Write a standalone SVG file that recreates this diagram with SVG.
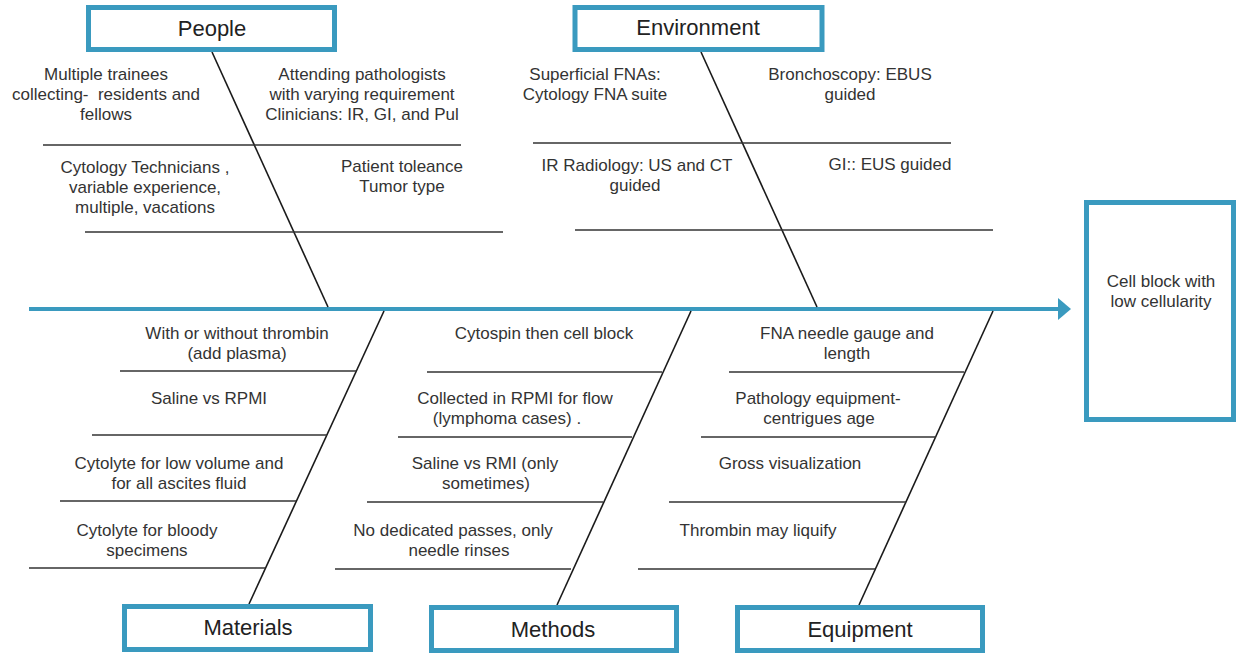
<svg xmlns="http://www.w3.org/2000/svg" width="1236" height="653" viewBox="0 0 1236 653">
<style>
.box{fill:#fff;stroke:#3a9abf;stroke-width:5}
.title{font-family:"Liberation Sans",Arial,sans-serif;font-size:22px;fill:#222;text-anchor:middle}
.t{font-family:"Liberation Sans",Arial,sans-serif;font-size:17px;fill:#333;text-anchor:middle;white-space:pre}
.bone{stroke:#1a1a1a;stroke-width:1.6;fill:none}
.rib{stroke:#333;stroke-width:1.6;fill:none}
</style>
<rect width="1236" height="653" fill="#fff"/>
<g id="connectors">
<line x1="29" y1="309" x2="1060" y2="309" stroke="#3a9abf" stroke-width="4"/>
<polygon points="1058,298 1071,309 1058,320" fill="#3a9abf"/>
<line class="bone" x1="212" y1="52" x2="328" y2="307"/>
<line class="bone" x1="701" y1="52" x2="817" y2="307"/>
<line class="bone" x1="384" y1="311" x2="249" y2="604"/>
<line class="bone" x1="691" y1="311" x2="557" y2="605"/>
<line class="bone" x1="993" y1="311" x2="859" y2="605"/>
<line class="rib" x1="43" y1="145" x2="461" y2="145"/>
<line class="rib" x1="85" y1="232" x2="503" y2="232"/>
<line class="rib" x1="533" y1="143" x2="951" y2="143"/>
<line class="rib" x1="575" y1="230" x2="993" y2="230"/>
<line class="rib" x1="120" y1="371" x2="356" y2="371"/>
<line class="rib" x1="92" y1="435" x2="327" y2="435"/>
<line class="rib" x1="60" y1="501" x2="296" y2="501"/>
<line class="rib" x1="29" y1="568" x2="265" y2="568"/>
<line class="rib" x1="427" y1="372" x2="662" y2="372"/>
<line class="rib" x1="398" y1="437" x2="632" y2="437"/>
<line class="rib" x1="367" y1="502" x2="603" y2="502"/>
<line class="rib" x1="335" y1="569" x2="571" y2="569"/>
<line class="rib" x1="729" y1="372" x2="964" y2="372"/>
<line class="rib" x1="701" y1="437" x2="936" y2="437"/>
<line class="rib" x1="669" y1="502" x2="906" y2="502"/>
<line class="rib" x1="638" y1="569" x2="875" y2="569"/>
</g>
<g id="people">
<rect class="box" x="88.5" y="7.5" width="246" height="42"/>
<text class="title" x="212" y="36">People</text>
<text class="t" x="106" y="80">Multiple trainees</text>
<text class="t" x="106" y="100" xml:space="preserve">collecting-  residents and</text>
<text class="t" x="106" y="120">fellows</text>
<text class="t" x="362" y="80">Attending pathologists</text>
<text class="t" x="362" y="100">with varying requirement</text>
<text class="t" x="362" y="120">Clinicians: IR, GI, and Pul</text>
<text class="t" x="145" y="173">Cytology Technicians ,</text>
<text class="t" x="145" y="193">variable experience,</text>
<text class="t" x="145" y="213">multiple, vacations</text>
<text class="t" x="402" y="172">Patient toleance</text>
<text class="t" x="402" y="192">Tumor type</text>
</g>
<g id="environment">
<rect class="box" x="575" y="7.5" width="247" height="42"/>
<text class="title" x="698" y="35">Environment</text>
<text class="t" x="595" y="80">Superficial FNAs:</text>
<text class="t" x="595" y="100">Cytology FNA suite</text>
<text class="t" x="850" y="80">Bronchoscopy: EBUS</text>
<text class="t" x="850" y="100">guided</text>
<text class="t" x="637" y="171">IR Radiology: US and CT</text>
<text class="t" x="635" y="191">guided</text>
<text class="t" x="890" y="170">GI:: EUS guided</text>
</g>
<g id="materials">
<rect class="box" x="124.5" y="606.5" width="246" height="43"/>
<text class="title" x="248" y="635">Materials</text>
<text class="t" x="237" y="339">With or without thrombin</text>
<text class="t" x="237" y="359">(add plasma)</text>
<text class="t" x="209" y="404">Saline vs RPMI</text>
<text class="t" x="179" y="469">Cytolyte for low volume and</text>
<text class="t" x="179" y="489">for all ascites fluid</text>
<text class="t" x="147" y="536">Cytolyte for bloody</text>
<text class="t" x="147" y="556">specimens</text>
</g>
<g id="methods">
<rect class="box" x="431.5" y="607.5" width="245" height="43"/>
<text class="title" x="553" y="637">Methods</text>
<text class="t" x="544" y="339">Cytospin then cell block</text>
<text class="t" x="515" y="404">Collected in RPMI for flow</text>
<text class="t" x="507" y="424">(lymphoma cases) .</text>
<text class="t" x="485" y="469">Saline vs RMI (only</text>
<text class="t" x="486" y="489">sometimes)</text>
<text class="t" x="453" y="536">No dedicated passes, only</text>
<text class="t" x="459" y="556">needle rinses</text>
</g>
<g id="equipment">
<rect class="box" x="737.5" y="607.5" width="245" height="43"/>
<text class="title" x="860" y="637">Equipment</text>
<text class="t" x="847" y="339">FNA needle gauge and</text>
<text class="t" x="847" y="359">length</text>
<text class="t" x="818" y="404">Pathology equipment-</text>
<text class="t" x="819" y="424">centrigues age</text>
<text class="t" x="790" y="469">Gross visualization</text>
<text class="t" x="758" y="536">Thrombin may liquify</text>
</g>
<g id="effect">
<rect class="box" x="1086.5" y="202.5" width="147" height="217"/>
<text class="t" x="1161" y="287">Cell block with</text>
<text class="t" x="1161" y="307">low cellularity</text>
</g>
</svg>
